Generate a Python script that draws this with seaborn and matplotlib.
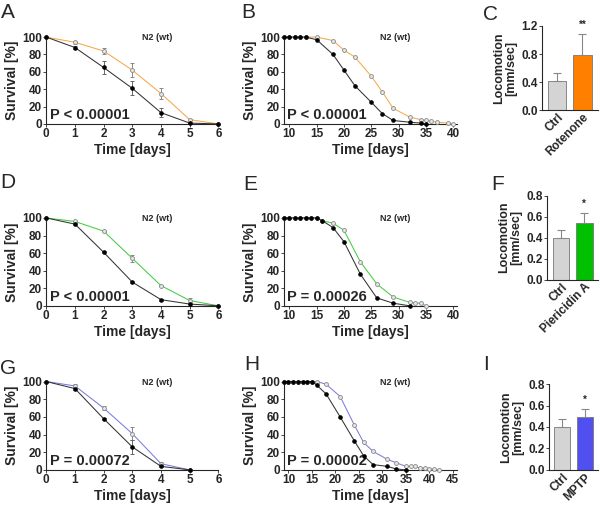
import numpy as np
import matplotlib
matplotlib.use("Agg")
import matplotlib.pyplot as plt
import seaborn as sns

sns.set_style("ticks")
plt.rcParams['font.family'] = ['Liberation Sans', 'DejaVu Sans']

# ---- data ----
# A: rotenone, survival (short)
a_days = [0, 1, 2, 3, 4, 5, 6]
a_ctrl = [100, 88, 65, 41, 13, 1, 0]
a_ctrl_err = [0, 2, 7, 8, 5, 0, 0]
a_trt = [100, 94, 84, 62, 35, 5, 0]
a_trt_err = [0, 2, 3, 8, 6, 1, 0]

# B: rotenone, lifespan
b_ctrl_days = [9, 10, 11, 12, 13, 15, 18, 20, 22, 25, 27, 29, 32, 34, 35]
b_ctrl = [100, 100, 100, 100, 100, 97, 80, 62, 44, 25, 12, 4, 2, 1, 0]
b_trt_days = [9, 10, 11, 12, 13, 15, 18, 20, 22, 25, 27, 29, 32, 34, 35, 36, 37, 39, 40]
b_trt = [100, 100, 100, 100, 100, 100, 96, 85, 77, 55, 37, 18, 8, 5, 4, 3, 2, 1, 0]

# C: locomotion rotenone
c_groups = ['Ctrl', 'Rotenone']
c_vals = [0.42, 0.79]
c_err = [0.11, 0.30]

# D: piericidin A, survival
d_days = [0, 1, 2, 3, 4, 5, 6]
d_ctrl = [100, 93, 61, 27, 7, 2, 0]
d_ctrl_err = [0, 1, 1, 1, 1, 0, 0]
d_trt = [100, 96, 85, 54, 23, 6, 0]
d_trt_err = [0, 1, 1, 4, 1, 3, 0]

# E: piericidin A, lifespan
e_ctrl_days = [9, 10, 11, 12, 13, 14, 15, 16, 18, 20, 23, 26, 29, 32]
e_ctrl = [100, 100, 100, 100, 100, 100, 100, 97, 89, 73, 36, 9, 3, 0]
e_trt_days = [9, 10, 11, 12, 13, 14, 15, 16, 18, 20, 23, 26, 29, 32, 33, 34, 35]
e_trt = [100, 100, 100, 100, 100, 100, 100, 97, 94, 86, 50, 25, 10, 4, 3, 3, 0]

# F: locomotion piericidin A
f_groups = ['Ctrl', 'Piericidin A']
f_vals = [0.40, 0.54]
f_err = [0.07, 0.09]

# G: MPTP, survival
g_days = [0, 1, 2, 3, 4, 5]
g_ctrl = [100, 92, 58, 26, 4, 0]
g_ctrl_err = [0, 2, 1, 8, 1, 0]
g_trt = [100, 95, 70, 41, 7, 0]
g_trt_err = [0, 2, 2, 7, 2, 0]

# H: MPTP, lifespan
h_ctrl_days = [9, 10, 11, 12, 13, 14, 15, 16, 18, 21, 24, 26, 28, 31, 33, 35]
h_ctrl = [100, 100, 100, 100, 100, 100, 100, 96, 86, 60, 33, 16, 6, 4, 1, 0]
h_trt_days = [9, 10, 11, 12, 13, 14, 15, 16, 18, 21, 24, 26, 28, 31, 33, 35, 36, 37, 38, 39, 40, 41, 42]
h_trt = [100, 100, 100, 100, 100, 100, 100, 100, 97, 83, 51, 31, 21, 12, 8, 4, 4, 4, 2, 2, 1, 1, 0]

# I: locomotion MPTP
i_groups = ['Ctrl', 'MPTP']
i_vals = [0.40, 0.49]
i_err = [0.07, 0.08]

p_texts = ['P < 0.00001', 'P < 0.00001', 'P < 0.00001', 'P = 0.00026', 'P = 0.00072', 'P = 0.00002']
stars = ['**', '*', '*']

orange_line, orange_bar = '#f5a84a', '#ff7f00'
green_line, green_bar = '#44cc44', '#00c000'
blue_line, blue_bar = '#7b7be0', '#5050f0'
grey_bar = '#d4d4d4'

fig = plt.figure(figsize=(6, 5.08), dpi=100)


def surv_panel(rect, ctrl_x, ctrl_y, trt_x, trt_y, color, ptext, xlim, xticks,
               ctrl_err=None, trt_err=None):
    ax = fig.add_axes(rect)
    if trt_err is not None:
        ax.errorbar(trt_x, trt_y, yerr=trt_err, fmt='none', ecolor='#888888',
                    elinewidth=0.7, capsize=1.5, capthick=0.7, zorder=2)
    if ctrl_err is not None:
        ax.errorbar(ctrl_x, ctrl_y, yerr=ctrl_err, fmt='none', ecolor='#666666',
                    elinewidth=0.7, capsize=1.5, capthick=0.7, zorder=2)
    sns.lineplot(x=trt_x, y=trt_y, ax=ax, color=color, lw=0.75, marker='o',
                 markersize=2.8, markerfacecolor='#e6e6e6', markeredgecolor='#888888',
                 markeredgewidth=0.6, clip_on=False, zorder=3)
    sns.lineplot(x=ctrl_x, y=ctrl_y, ax=ax, color='#333333', lw=0.75, marker='o',
                 markersize=2.5, markerfacecolor='black', markeredgecolor='black',
                 clip_on=False, zorder=4)
    ax.set_xlim(*xlim)
    ax.set_ylim(0, 100)
    ax.set_xticks(xticks)
    ax.set_yticks([0, 20, 40, 60, 80, 100])
    ax.tick_params(length=2, width=0.6, labelsize=8.5, pad=1)
    for lab in ax.get_xticklabels() + ax.get_yticklabels():
        lab.set_fontweight('bold')
    ax.set_xlabel('Time [days]', fontsize=10, fontweight='bold', labelpad=2)
    ax.set_ylabel('Survival [%]', fontsize=10, fontweight='bold', labelpad=2)
    sns.despine(ax=ax)
    for s in ['left', 'bottom']:
        ax.spines[s].set_linewidth(0.8)
    ax.text(0.645, 0.99, 'N2 (wt)', transform=ax.transAxes, ha='center', va='center',
            fontsize=6.5, fontweight='bold')
    ax.text(0.02, 0.1, ptext, transform=ax.transAxes, ha='left', va='center',
            fontsize=10.5, fontweight='bold')
    return ax


def bar_panel(rect, groups, vals, errs, color, star, ymax, yticks):
    ax = fig.add_axes(rect)
    sns.barplot(x=groups, y=vals, ax=ax, palette=[grey_bar, color], hue=groups,
                legend=False, width=0.72, saturation=1, edgecolor='#777777',
                linewidth=0.6)
    ax.errorbar([0, 1], vals, yerr=[[0, 0], errs], fmt='none', ecolor='#888888',
                elinewidth=0.8, capsize=3, capthick=0.8)
    ax.set_ylim(0, ymax)
    ax.set_xlim(-0.6, 1.6)
    ax.set_yticks(yticks)
    ax.set_yticklabels([f'{t:.1f}' for t in yticks])
    ax.tick_params(axis='y', length=2, width=0.6, labelsize=8.5, pad=1)
    ax.tick_params(axis='x', length=0, labelsize=8.5, pad=1)
    for lab in ax.get_yticklabels():
        lab.set_fontweight('bold')
    for lab in ax.get_xticklabels():
        lab.set_fontweight('bold')
        lab.set_rotation(45)
        lab.set_ha('right')
        lab.set_rotation_mode('anchor')
    ax.set_ylabel('Locomotion\n[mm/sec]', fontsize=9, fontweight='bold', labelpad=3,
                  linespacing=1.0)
    ax.set_xlabel('')
    sns.despine(ax=ax)
    for s in ['left', 'bottom']:
        ax.spines[s].set_linewidth(0.8)
    ax.text(1, vals[1] + errs[1] + ymax * 0.05, star, ha='center', va='bottom',
            fontsize=7, fontweight='bold')
    return ax


short_ticks = [0, 1, 2, 3, 4, 5, 6]
surv_panel([0.077, 0.756, 0.287, 0.171], a_days, a_ctrl, a_days, a_trt, orange_line,
           p_texts[0], (0, 6), short_ticks, a_ctrl_err, a_trt_err)
surv_panel([0.473, 0.756, 0.288, 0.171], b_ctrl_days, b_ctrl, b_trt_days, b_trt,
           orange_line, p_texts[1], (9, 40.6), [10, 15, 20, 25, 30, 35, 40])
bar_panel([0.903, 0.783, 0.093, 0.166], c_groups, c_vals, c_err, orange_bar, stars[0],
          1.2, [0.0, 0.4, 0.8, 1.2])

surv_panel([0.077, 0.398, 0.287, 0.173], d_days, d_ctrl, d_days, d_trt, green_line,
           p_texts[2], (0, 6), short_ticks, d_ctrl_err, d_trt_err)
surv_panel([0.473, 0.398, 0.288, 0.173], e_ctrl_days, e_ctrl, e_trt_days, e_trt,
           green_line, p_texts[3], (9, 40.6), [10, 15, 20, 25, 30, 35, 40])
bar_panel([0.912, 0.449, 0.085, 0.166], f_groups, f_vals, f_err, green_bar, stars[1],
          0.8, [0.0, 0.2, 0.4, 0.6, 0.8])

surv_panel([0.077, 0.075, 0.287, 0.174], g_days, g_ctrl, g_days, g_trt, blue_line,
           p_texts[4], (0, 6), short_ticks, g_ctrl_err, g_trt_err)
surv_panel([0.473, 0.075, 0.288, 0.174], h_ctrl_days, h_ctrl, h_trt_days, h_trt,
           blue_line, p_texts[5], (9, 45.8), [10, 15, 20, 25, 30, 35, 40, 45])
bar_panel([0.915, 0.075, 0.082, 0.169], i_groups, i_vals, i_err, blue_bar, stars[2],
          0.8, [0.0, 0.2, 0.4, 0.6, 0.8])

# panel letters
letters = [('A', 8, 12), ('B', 248, 12), ('C', 490, 15),
           ('D', 8, 182), ('E', 250, 185), ('F', 498, 185),
           ('G', 8, 368), ('H', 252, 365), ('I', 486, 365)]
for letter, px, py in letters:
    fig.text(px / 600, 1 - py / 508, letter, ha='center', va='center', fontsize=15)

fig.savefig('out.png', dpi=100)
